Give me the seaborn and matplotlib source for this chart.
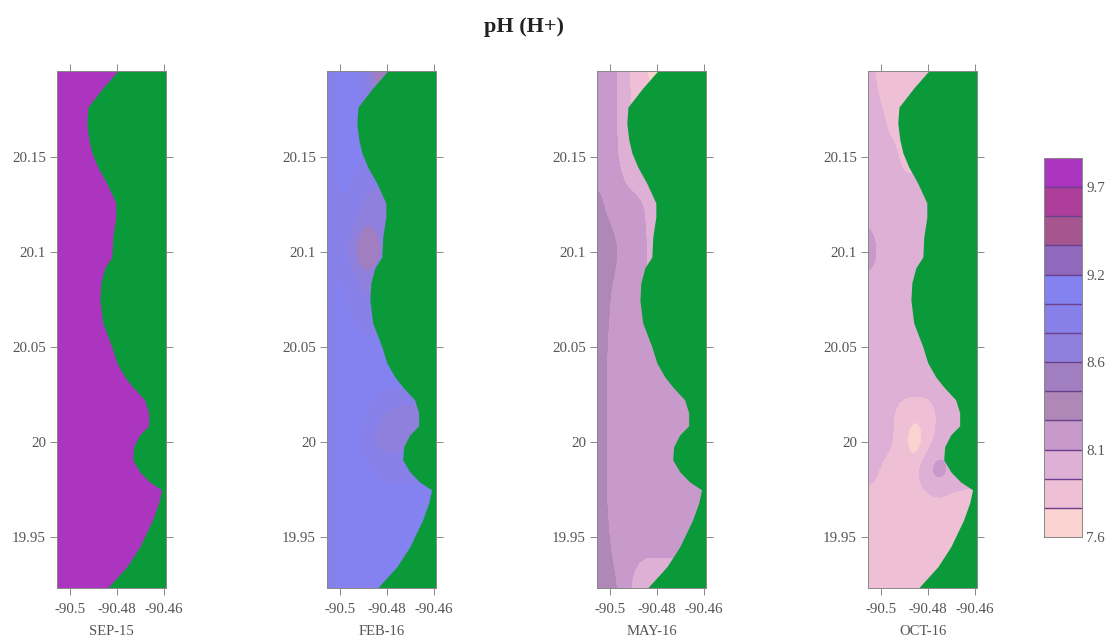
import matplotlib
matplotlib.use("Agg")
import matplotlib.pyplot as plt
from matplotlib.colors import ListedColormap
import numpy as np
import seaborn as sns

W, H = 1112, 643

months = ["SEP-15", "FEB-16", "MAY-16", "OCT-16"]
panel_left = [57, 327, 597, 868]

levels = [7.6, 7.775, 7.95, 8.125, 8.3, 8.475, 8.65, 8.825, 9.0, 9.175, 9.35, 9.525, 9.7, 9.875]
band_colors = ["#FAD2CF", "#EFBFD6", "#DEB0D6", "#C79ACB", "#B088B8", "#A07EC0", "#8E80DC", "#8680E8",
               "#8482F0", "#9068BC", "#A5568F", "#AD3F9A", "#AB35BE"]
bar_labels = ["9.7", "9.2", "8.6", "8.1", "7.6"]

lons = [-90.5055, -90.5, -90.495, -90.49, -90.485, -90.48, -90.475, -90.47, -90.459]
lats = [20.1953, 20.17, 20.15, 20.125, 20.10, 20.08, 20.05, 20.03, 20.015, 20.0, 19.985, 19.97, 19.95, 19.923]

coast_lon = [-90.4796, -90.4860, -90.4923, -90.4928, -90.4919, -90.4906, -90.4881, -90.4843, -90.4804, -90.4804,
             -90.4817, -90.4821, -90.4851, -90.4868, -90.4872, -90.4860, -90.4821, -90.4800, -90.4766, -90.4732,
             -90.4681, -90.4664, -90.4664, -90.4702, -90.4728, -90.4732, -90.4702, -90.4660, -90.4609, -90.4621,
             -90.4647, -90.4702, -90.4757, -90.4838]
coast_lat = [20.1953, 20.1863, 20.1763, 20.1679, 20.1589, 20.1521, 20.1447, 20.1363, 20.1258, 20.1184,
             20.1079, 20.0974, 20.0916, 20.0837, 20.0747, 20.0626, 20.05, 20.0416, 20.0342, 20.0289,
             20.0221, 20.0153, 20.0084, 20.0037, 19.9974, 19.9905, 19.9842, 19.9789, 19.9747, 19.9679,
             19.9589, 19.9447, 19.9342, 19.9232]

sep_ph = [[9.79] * 9 for _ in lats]

feb_ph = [
    [8.90, 9.05, 9.05, 8.95, 8.55, 8.50, 8.50, 8.50, 8.50],
    [8.90, 9.05, 9.05, 9.00, 8.70, 8.70, 8.70, 8.70, 8.70],
    [8.90, 9.05, 9.05, 9.00, 8.95, 8.95, 8.95, 8.95, 8.95],
    [8.88, 9.00, 8.95, 8.78, 8.75, 8.75, 8.75, 8.75, 8.75],
    [8.88, 8.95, 8.72, 8.45, 8.55, 8.72, 8.72, 8.72, 8.72],
    [8.88, 9.05, 8.95, 8.80, 8.80, 8.80, 8.80, 8.80, 8.80],
    [8.90, 9.05, 9.05, 9.05, 9.05, 9.05, 9.05, 9.05, 9.05],
    [8.90, 9.05, 9.05, 9.05, 9.05, 9.05, 9.05, 9.05, 9.05],
    [8.90, 9.05, 9.05, 9.05, 8.90, 8.78, 8.72, 8.72, 8.72],
    [8.90, 9.05, 9.05, 8.95, 8.78, 8.72, 8.75, 8.80, 8.80],
    [8.90, 9.05, 9.05, 9.05, 9.00, 8.95, 8.95, 8.95, 8.95],
    [8.90, 9.05, 9.05, 9.05, 9.05, 9.05, 9.05, 9.05, 9.05],
    [8.88, 9.05, 9.05, 9.05, 9.05, 9.05, 9.05, 9.05, 9.05],
    [8.88, 9.05, 9.05, 9.05, 9.05, 9.05, 9.05, 9.05, 9.05],
]

may_ph = [
    [8.21, 8.21, 8.04, 7.90, 7.80, 7.65, 7.65, 7.65, 7.65],
    [8.21, 8.21, 8.05, 7.92, 7.85, 7.80, 7.80, 7.80, 7.80],
    [8.21, 8.21, 8.08, 7.95, 7.90, 7.90, 7.90, 7.90, 7.90],
    [8.35, 8.24, 8.20, 8.18, 8.12, 8.00, 7.90, 7.90, 7.90],
    [8.45, 8.38, 8.25, 8.20, 8.15, 8.00, 7.95, 7.95, 7.95],
    [8.45, 8.30, 8.22, 8.20, 8.12, 8.05, 8.05, 8.05, 8.05],
    [8.45, 8.25, 8.20, 8.20, 8.18, 8.15, 8.15, 8.15, 8.15],
    [8.45, 8.23, 8.20, 8.20, 8.20, 8.20, 8.20, 8.20, 8.20],
    [8.45, 8.23, 8.20, 8.20, 8.20, 8.20, 8.20, 8.20, 8.20],
    [8.45, 8.23, 8.20, 8.20, 8.20, 8.20, 8.20, 8.20, 8.20],
    [8.45, 8.23, 8.20, 8.20, 8.20, 8.20, 8.20, 8.20, 8.20],
    [8.45, 8.24, 8.20, 8.20, 8.20, 8.20, 8.20, 8.20, 8.20],
    [8.45, 8.28, 8.20, 8.20, 8.18, 8.18, 8.18, 8.18, 8.18],
    [8.45, 8.36, 8.25, 8.08, 8.04, 8.04, 8.04, 8.04, 8.04],
]

oct_ph = [
    [8.02, 7.88, 7.86, 7.84, 7.84, 7.84, 7.84, 7.84, 7.84],
    [8.04, 7.98, 7.88, 7.86, 7.86, 7.86, 7.86, 7.86, 7.86],
    [8.04, 8.04, 8.00, 7.90, 7.90, 7.90, 7.90, 7.90, 7.90],
    [8.04, 8.04, 8.04, 8.04, 8.04, 8.02, 8.02, 8.02, 8.02],
    [8.22, 8.08, 8.04, 8.04, 8.04, 8.04, 8.04, 8.04, 8.04],
    [8.04, 8.04, 8.04, 8.04, 8.04, 8.04, 8.04, 8.04, 8.04],
    [8.04, 8.04, 8.04, 8.04, 8.04, 8.04, 8.04, 8.04, 8.04],
    [8.04, 8.04, 8.04, 8.04, 8.03, 8.04, 8.04, 8.04, 8.04],
    [8.04, 8.04, 7.96, 7.84, 7.82, 7.84, 7.98, 8.04, 8.04],
    [8.04, 8.02, 7.96, 7.80, 7.62, 7.88, 8.00, 8.04, 8.04],
    [8.04, 7.93, 7.86, 7.86, 7.92, 8.12, 8.22, 8.10, 8.04],
    [7.88, 7.86, 7.86, 7.86, 7.86, 7.90, 7.92, 7.90, 7.88],
    [7.86, 7.86, 7.86, 7.86, 7.86, 7.86, 7.86, 7.86, 7.86],
    [7.86, 7.86, 7.86, 7.86, 7.86, 7.86, 7.86, 7.86, 7.86],
]

panel_ph = [sep_ph, feb_ph, may_ph, oct_ph]

sns.set_theme(style="ticks")
plt.rcParams["font.family"] = ["Liberation Serif", "DejaVu Serif"]
grey = "#555555"


def px_axes(fig, left, top, right, bottom):
    return fig.add_axes([left / W, 1 - bottom / H, (right - left) / W, (bottom - top) / H])


def smooth_field(values, fine_x, fine_y, win=11):
    # rounds the corners of the contours, the coarse grid draws them as polygons
    z = np.array([np.interp(fine_x, lons, row) for row in values])
    z = np.array([np.interp(fine_y, lats[::-1], col[::-1]) for col in z.T]).T
    pad = win // 2
    kernel = np.ones(win) / win
    z = np.apply_along_axis(lambda r: np.convolve(np.pad(r, pad, mode="edge"), kernel, mode="valid"), 1, z)
    z = np.apply_along_axis(lambda c: np.convolve(np.pad(c, pad, mode="edge"), kernel, mode="valid"), 0, z)
    return z


fig = plt.figure(figsize=(W / 100, H / 100), dpi=100)
fig.text(524 / W, 1 - 27 / H, "pH (H+)", ha="center", va="center", fontsize=16, fontweight="bold", color="#222222")

fine_x = np.linspace(lons[0], lons[-1], 110)
fine_y = np.linspace(lats[-1], lats[0], 260)

for i in range(len(months)):
    ax = px_axes(fig, panel_left[i], 71, panel_left[i] + 109, 588)
    cs = ax.contourf(fine_x, fine_y, smooth_field(panel_ph[i], fine_x, fine_y), levels=levels, colors=band_colors)
    cs.set_edgecolor("face")
    cs.set_linewidth(0.4)
    ax.fill_betweenx(coast_lat, coast_lon, lons[-1], color="#0B9A3A", lw=0)
    ax.set_xlim(lons[0], lons[-1])
    ax.set_ylim(lats[-1], lats[0])
    ax.set_xticks([-90.5, -90.48, -90.46])
    ax.set_xticklabels(["-90.5", "-90.48", "-90.46"])
    ax.set_yticks([20.15, 20.1, 20.05, 20, 19.95])
    ax.set_yticklabels(["20.15", "20.1", "20.05", "20", "19.95"])
    ax.tick_params(top=True, right=True, length=5, width=0.7, color="#888888", labelcolor=grey,
                   labelsize=10.8)
    ax.tick_params(axis="x", pad=5.5)
    ax.tick_params(axis="y", pad=3)
    ax.set_xlabel(months[i], fontsize=10.5, color=grey, labelpad=7)
    for s in ax.spines.values():
        s.set_color("#888888")
        s.set_linewidth(0.7)

# colour bar, top band first
cax = px_axes(fig, 1044, 158, 1082, 537)
bands = np.arange(len(band_colors))[::-1].reshape(-1, 1)
sns.heatmap(bands, ax=cax, cmap=ListedColormap(band_colors), cbar=False, xticklabels=False, yticklabels=False)
cax.hlines(range(1, len(band_colors)), 0, 1, color="#6A3F8E", lw=1.0)
cax.yaxis.tick_right()
cax.set_yticks([1, 4, 7, 10, 13])
cax.set_yticklabels(bar_labels, rotation=0)
cax.tick_params(axis="y", length=0, labelsize=10.8, labelcolor=grey, pad=3, right=False)
for s in cax.spines.values():
    s.set_visible(True)
    s.set_color("#888888")
    s.set_linewidth(0.7)

fig.savefig("out.png", dpi=100)
